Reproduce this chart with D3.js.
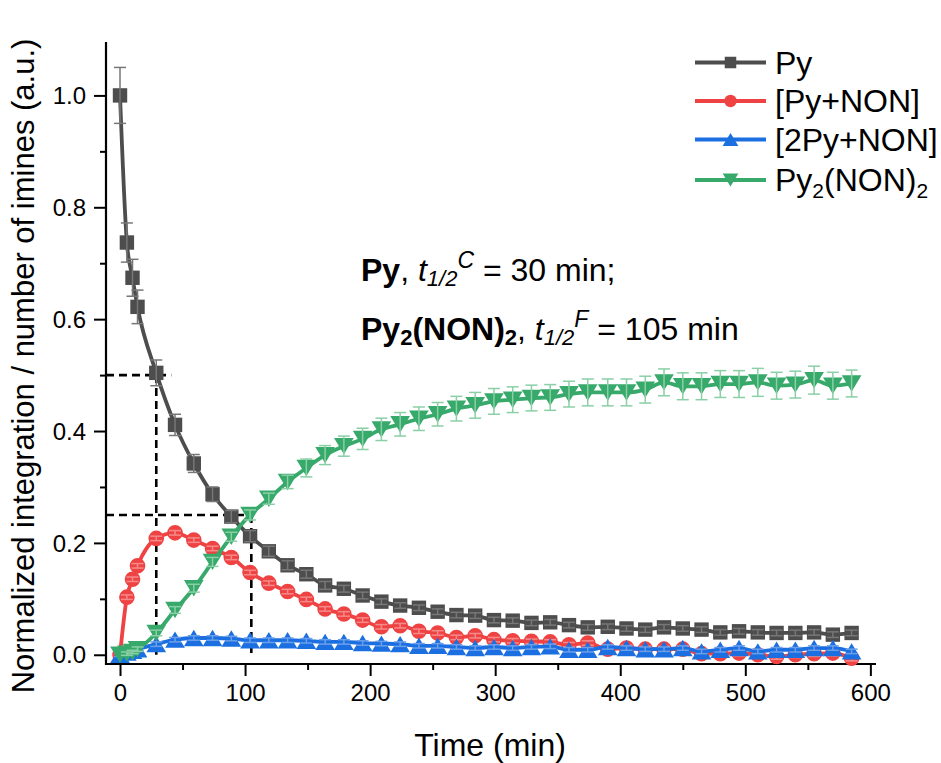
<!DOCTYPE html>
<html>
<head>
<meta charset="utf-8">
<script src="https://cdn.jsdelivr.net/npm/d3@7"></script>
<style>
  html, body { margin: 0; padding: 0; background: #fff; }
  svg { display: block; font-family: "Liberation Sans", Arial, Helvetica, sans-serif; }
</style>
</head>
<body>
<svg id="chart" width="941" height="763"></svg>
<script>
// ---------------- data ----------------
const times = [0, 5.5, 10, 14, 29, 44, 59, 74, 89, 104, 119, 134, 149, 164, 179, 194, 209, 224, 239, 254, 269, 284, 299, 314, 329, 344, 359, 374, 390, 405, 420, 435, 450, 465, 480, 495, 510, 525, 540, 555, 570, 585];

const pyValues = [1.0, 0.737, 0.674, 0.622, 0.504, 0.411, 0.342, 0.287, 0.247, 0.212, 0.185, 0.160, 0.144, 0.124, 0.118, 0.106, 0.095, 0.088, 0.084, 0.077, 0.071, 0.070, 0.062, 0.061, 0.057, 0.058, 0.053, 0.049, 0.050, 0.047, 0.045, 0.049, 0.047, 0.045, 0.040, 0.042, 0.040, 0.039, 0.039, 0.040, 0.036, 0.039];
const pyErrors = [0.05, 0.035, 0.033, 0.030, 0.023, 0.019, 0.016, 0.013, 0.011, 0.010, 0.009, 0.008, 0.007, 0.007, 0.006, 0.006, 0.005, 0.005, 0.005, 0.005, 0.005, 0.005, 0.005, 0.005, 0.005, 0.005, 0.005, 0.005, 0.005, 0.005, 0.005, 0.005, 0.005, 0.005, 0.005, 0.005, 0.005, 0.005, 0.005, 0.005, 0.005, 0.005];

const pyNonValues = [0.0, 0.103, 0.135, 0.159, 0.208, 0.218, 0.205, 0.190, 0.174, 0.147, 0.128, 0.113, 0.099, 0.082, 0.073, 0.062, 0.050, 0.052, 0.042, 0.039, 0.031, 0.034, 0.027, 0.025, 0.024, 0.023, 0.018, 0.021, 0.010, 0.012, 0.010, 0.010, 0.010, 0.002, 0.002, 0.003, 0.000, -0.003, 0.000, 0.002, 0.003, -0.006];
const pyNonErrors = [0.004, 0.004, 0.004, 0.004, 0.004, 0.004, 0.004, 0.004, 0.004, 0.004, 0.004, 0.004, 0.004, 0.004, 0.004, 0.004, 0.004, 0.004, 0.004, 0.004, 0.004, 0.004, 0.004, 0.004, 0.004, 0.004, 0.004, 0.004, 0.005, 0.005, 0.005, 0.005, 0.005, 0.005, 0.005, 0.005, 0.005, 0.005, 0.005, 0.005, 0.005, 0.005];

const py2NonValues = [0.0, 0.004, 0.007, 0.010, 0.019, 0.027, 0.030, 0.030, 0.029, 0.026, 0.026, 0.026, 0.025, 0.023, 0.023, 0.021, 0.020, 0.019, 0.016, 0.016, 0.014, 0.012, 0.014, 0.012, 0.014, 0.015, 0.009, 0.009, 0.014, 0.012, 0.010, 0.010, 0.012, 0.006, 0.009, 0.012, 0.006, 0.009, 0.009, 0.012, 0.012, 0.006];
const py2NonErrors = [0.003, 0.003, 0.003, 0.003, 0.004, 0.004, 0.004, 0.004, 0.004, 0.004, 0.004, 0.004, 0.004, 0.004, 0.004, 0.004, 0.004, 0.004, 0.004, 0.004, 0.004, 0.004, 0.004, 0.004, 0.004, 0.004, 0.004, 0.004, 0.004, 0.004, 0.004, 0.004, 0.004, 0.004, 0.004, 0.004, 0.004, 0.004, 0.004, 0.004, 0.004, 0.004];

const dimerValues = [0.0, 0.002, 0.005, 0.010, 0.039, 0.080, 0.119, 0.166, 0.211, 0.250, 0.279, 0.309, 0.334, 0.357, 0.373, 0.386, 0.403, 0.412, 0.422, 0.430, 0.440, 0.446, 0.453, 0.456, 0.459, 0.460, 0.466, 0.469, 0.469, 0.469, 0.474, 0.487, 0.480, 0.480, 0.484, 0.484, 0.487, 0.481, 0.483, 0.491, 0.481, 0.485];
const dimerErrors = [0.0, 0.003, 0.003, 0.004, 0.005, 0.006, 0.007, 0.008, 0.008, 0.009, 0.010, 0.012, 0.016, 0.017, 0.018, 0.019, 0.020, 0.021, 0.021, 0.021, 0.022, 0.023, 0.023, 0.023, 0.023, 0.023, 0.023, 0.024, 0.024, 0.024, 0.024, 0.024, 0.024, 0.024, 0.024, 0.024, 0.025, 0.024, 0.024, 0.025, 0.024, 0.024];

const seriesNames = ["Py", "[Py+NON]", "[2Py+NON]", "Py2(NON)2"];
const seriesColors = ["#4d4d4d", "#ef4343", "#1b6fe0", "#37a96a"];
const errorColors = ["#777777", "#f58a8a", "#6c9fea", "#8acfa6"];
const seriesShapes = ["square", "circle", "triangleUp", "triangleDown"];

const xTicks = [0, 100, 200, 300, 400, 500, 600];
const xMinorTicks = [50, 150, 250, 350, 450, 550];
const yTicks = [0.0, 0.2, 0.4, 0.6, 0.8, 1.0];
const yMinorTicks = [0.1, 0.3, 0.5, 0.7, 0.9];

// half-life guide lines: [time, level, end of horizontal dash]
const halfLifeGuides = [
  { t: 29, level: 0.5, hEnd: 41, vEnd: 0.0 },
  { t: 105, level: 0.25, hEnd: 105, vEnd: -0.005 }
];

// ---------------- layout ----------------
const svg = d3.select("#chart");
const xDomain = [-11.2, 604.5];
const yDomain = [-0.0165, 1.0955];
const x = d3.scaleLinear().domain(xDomain).range([106, 876]);
const y = d3.scaleLinear().domain(yDomain).range([664, 42]);

const FONT_TICK = 24;
const FONT_TITLE = 32;

// ---------------- axes ----------------
const xAxisMajor = d3.axisBottom(x).tickValues(xTicks).tickSize(12).tickPadding(8).tickFormat(d3.format("d"));
const xAxisMinor = d3.axisBottom(x).tickValues(xMinorTicks).tickSize(6).tickFormat("");
const yAxisMajor = d3.axisLeft(y).tickValues(yTicks).tickSize(12).tickPadding(8).tickFormat(d3.format(".1f"));
const yAxisMinor = d3.axisLeft(y).tickValues(yMinorTicks).tickSize(6).tickFormat("");

function styleAxis(g) {
  g.selectAll("path.domain").remove();
  g.selectAll("line").attr("stroke", "#000").attr("stroke-width", 2);
  g.selectAll("text").attr("font-size", FONT_TICK).attr("fill", "#000").attr("font-family", "Liberation Sans, Arial, sans-serif");
}

const gx = svg.append("g").attr("transform", `translate(0,${y.range()[0]})`);
gx.append("g").call(xAxisMinor).call(styleAxis);
gx.append("g").call(xAxisMajor).call(styleAxis);
gx.append("line").attr("x1", x.range()[0] - 1).attr("x2", x.range()[1]).attr("y1", 0).attr("y2", 0)
  .attr("stroke", "#000").attr("stroke-width", 2.2);

const gy = svg.append("g").attr("transform", `translate(${x.range()[0]},0)`);
gy.append("g").call(yAxisMinor).call(styleAxis);
gy.append("g").call(yAxisMajor).call(styleAxis);
gy.selectAll("text").attr("dy", "0.34em");
gy.append("line").attr("x1", 0).attr("x2", 0).attr("y1", y.range()[0] + 1).attr("y2", y.range()[1])
  .attr("stroke", "#000").attr("stroke-width", 2.2);

// axis titles
svg.append("text")
  .attr("x", (x.range()[0] + x.range()[1]) / 2 - 1)
  .attr("y", 756)
  .attr("text-anchor", "middle")
  .attr("font-size", FONT_TITLE)
  .text("Time (min)");

svg.append("text")
  .attr("transform", `translate(34,${(y.range()[0] + y.range()[1]) / 2 + 13}) rotate(-90)`)
  .attr("text-anchor", "middle")
  .attr("font-size", 31)
  .text("Normalized integration / number of imines (a.u.)");

// ---------------- half-life guides ----------------
const guides = svg.append("g").attr("stroke", "#000").attr("stroke-width", 2.6).attr("stroke-dasharray", "8,5").attr("fill", "none");
halfLifeGuides.forEach(gd => {
  guides.append("line").attr("x1", x.range()[0]).attr("x2", x(gd.hEnd)).attr("y1", y(gd.level)).attr("y2", y(gd.level));
  guides.append("line").attr("x1", x(gd.t)).attr("x2", x(gd.t)).attr("y1", y(gd.level)).attr("y2", y(gd.vEnd));
});

// ---------------- markers ----------------
function markerPath(shape, s) {
  switch (shape) {
    case "square":
      return `M${-s},${-s}H${s}V${s}H${-s}Z`;
    case "circle":
      return `M${s},0A${s},${s} 0 1,1 ${-s},0A${s},${s} 0 1,1 ${s},0Z`;
    case "triangleUp": {
      const w = s * 1.2, h = s * 1.0;
      return `M0,${-h}L${w},${h}L${-w},${h}Z`;
    }
    case "triangleDown": {
      const w = s * 1.2, h = s * 1.0;
      return `M0,${h}L${w},${-h}L${-w},${-h}Z`;
    }
  }
}
const markerSize = { square: 7.2, circle: 7.8, triangleUp: 8.2, triangleDown: 8.2 };

const allValues = [pyValues, pyNonValues, py2NonValues, dimerValues];
const allErrors = [pyErrors, pyNonErrors, py2NonErrors, dimerErrors];

const line = d3.line().x(d => x(d.t)).y(d => y(d.v)).curve(d3.curveMonotoneX);

allValues.forEach((vals, i) => {
  const data = times.map((t, k) => ({ t, v: vals[k], e: allErrors[i][k] }));
  const g = svg.append("g");
  g.append("path").datum(data)
    .attr("d", line)
    .attr("fill", "none")
    .attr("stroke", seriesColors[i])
    .attr("stroke-width", 3.8)
    .attr("stroke-linejoin", "round");

  g.selectAll("path.marker").data(data).join("path")
    .attr("class", "marker")
    .attr("transform", d => `translate(${x(d.t)},${y(d.v)})`)
    .attr("d", markerPath(seriesShapes[i], markerSize[seriesShapes[i]]))
    .attr("fill", seriesColors[i]);

  // error bars
  const eb = g.append("g").attr("stroke", errorColors[i]).attr("stroke-width", 1.5).attr("fill", "none");
  data.filter(d => d.e > 0).forEach(d => {
    const cx = x(d.t), y1 = y(d.v + d.e), y2 = y(d.v - d.e);
    eb.append("line").attr("x1", cx).attr("x2", cx).attr("y1", y1).attr("y2", y2);
    eb.append("line").attr("x1", cx - 6).attr("x2", cx + 6).attr("y1", y1).attr("y2", y1);
    eb.append("line").attr("x1", cx - 6).attr("x2", cx + 6).attr("y1", y2).attr("y2", y2);
  });
});

// ---------------- legend ----------------
const legendRows = [62.5, 101, 139.5, 180];
const legend = svg.append("g");
seriesNames.forEach((name, i) => {
  const ly = legendRows[i];
  legend.append("line").attr("x1", 695).attr("x2", 766).attr("y1", ly).attr("y2", ly)
    .attr("stroke", seriesColors[i]).attr("stroke-width", 3.8);
  legend.append("path")
    .attr("transform", `translate(730.5,${ly})`)
    .attr("d", markerPath(seriesShapes[i], markerSize[seriesShapes[i]] * 0.8))
    .attr("fill", seriesColors[i]);
  const t = legend.append("text").attr("x", 775).attr("y", ly + 11).attr("font-size", FONT_TITLE);
  if (name === "Py2(NON)2") {
    t.append("tspan").text("Py");
    t.append("tspan").attr("y", ly + 18).attr("font-size", 21).text("2");
    t.append("tspan").attr("y", ly + 11).text("(NON)");
    t.append("tspan").attr("y", ly + 18).attr("font-size", 21).text("2");
  } else {
    t.text(name);
  }
});

// ---------------- annotation ----------------
function halfLifeLine(baseY, parts) {
  const t = svg.append("text").attr("x", 361).attr("y", baseY).attr("font-size", 32);
  parts.forEach(p => {
    const sp = t.append("tspan").text(p.text);
    if (p.bold) sp.attr("font-weight", "bold");
    if (p.italic) sp.attr("font-style", "italic");
    if (p.sub) sp.attr("font-size", 22).attr("y", baseY + 5);
    else if (p.sup) sp.attr("font-size", 23).attr("y", baseY - 13);
    else sp.attr("y", baseY);
  });
}
halfLifeLine(281, [
  { text: "Py", bold: true },
  { text: ", " },
  { text: "t", italic: true },
  { text: "1/2", italic: true, sub: true },
  { text: "C", italic: true, sup: true },
  { text: " = 30 min;" }
]);
halfLifeLine(340, [
  { text: "Py", bold: true },
  { text: "2", bold: true, sub: true },
  { text: "(NON)", bold: true },
  { text: "2", bold: true, sub: true },
  { text: ", " },
  { text: "t", italic: true },
  { text: "1/2", italic: true, sub: true },
  { text: "F", italic: true, sup: true },
  { text: " = 105 min" }
]);
</script>
</body>
</html>
